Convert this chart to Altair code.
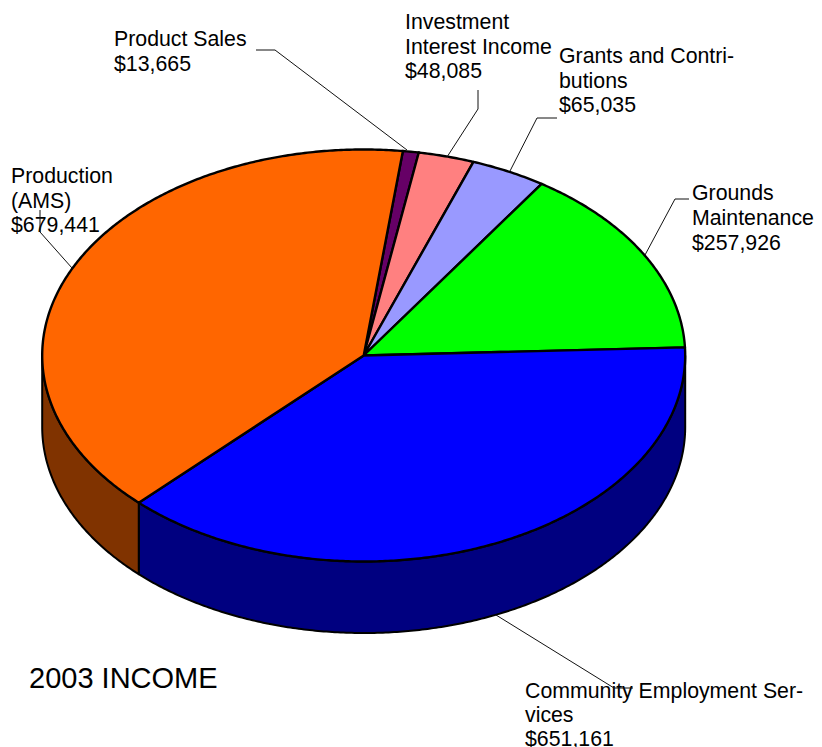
import numpy as np
import pandas as pd
import altair as alt

# Slice data, clockwise from the top of the pie
names = ["Product Sales", "Investment Interest Income", "Grants and Contributions",
         "Grounds Maintenance", "Community Employment Services", "Production (AMS)"]
values = [13665, 48085, 65035, 257926, 651161, 679441]
top_colors = ["#660066", "#FF8080", "#9999FF", "#00FF00", "#0000FF", "#FF6600"]
side_colors = ["#330033", "#804040", "#4C4C80", "#008000", "#000080", "#803300"]

# Label text, one entry per rendered line
label_lines = ["Product Sales", "$13,665",
               "Investment", "Interest Income", "$48,085",
               "Grants and Contri-", "butions", "$65,035",
               "Grounds", "Maintenance", "$257,926",
               "Community Employment Ser-", "vices", "$651,161",
               "Production", "(AMS)", "$679,441"]
label_x = [114, 114, 405, 405, 405, 559, 559, 559, 692, 692, 692, 525, 525, 525, 11, 11, 11]
label_y = [46, 71, 29, 54, 78, 63, 88, 112, 200, 225, 250, 698, 722, 746, 183, 208, 232]

# Leader-line paths in the page's pixel space
leaders = {
    "Product Sales": ([256, 275, 407], [50, 50, 150]),
    "Investment": ([478, 478, 447], [90, 109, 157]),
    "Grants": ([557, 537, 510], [118, 118, 171]),
    "Grounds": ([689, 675, 645], [199, 199, 255]),
    "Production": ([40, 40, 72], [210, 232, 268]),
    "Community": ([633, 614, 496], [688, 688, 615]),
}

title_text = "2003 INCOME"

# Pie geometry
CX, CY, RX, RY, DEPTH = 363.7, 355.5, 321.5, 206.0, 71.5
START_DEG = 7.0

def rim(t_deg, dy=0.0):
    t = np.radians(t_deg)
    return CX + RX * np.sin(t), CY - RY * np.cos(t) + dy

shares = np.array(values) / sum(values) * 360.0
edges = START_DEG + np.concatenate([[0], np.cumsum(shares)])

top_rows, side_rows = [], []
for i, name in enumerate(names):
    a0, a1 = edges[i], edges[i + 1]
    pts = [(CX, CY)]
    for t in np.linspace(a0, a1, max(4, int((a1 - a0) * 2))):
        pts.append(rim(t))
    pts.append((CX, CY))
    top_rows += [{"name": name, "x": p[0], "y": p[1], "o": k} for k, p in enumerate(pts)]
    # visible wall: only the front half of the rim
    s0, s1 = max(a0, 90.0), min(a1, 270.0)
    if s1 > s0:
        ts = np.linspace(s0, s1, max(4, int((s1 - s0) * 2)))
        wall = [rim(t) for t in ts] + [rim(t, DEPTH) for t in ts[::-1]]
        wall.append(wall[0])
        side_rows += [{"name": name, "x": p[0], "y": p[1], "o": k} for k, p in enumerate(wall)]

leader_rows = []
for key, (xs, ys) in leaders.items():
    leader_rows += [{"name": key, "x": x, "y": y, "o": k} for k, (x, y) in enumerate(zip(xs, ys))]

X = alt.X("x:Q", scale=alt.Scale(domain=[8, 814], nice=False, zero=False), axis=None)
Y = alt.Y("y:Q", scale=alt.Scale(domain=[747, 8], nice=False, zero=False), axis=None)

sides = alt.Chart(pd.DataFrame(side_rows)).mark_line(
    filled=True, stroke="black", strokeWidth=2, strokeJoin="round"
).encode(
    x=X, y=Y, order="o:Q",
    color=alt.Color("name:N", scale=alt.Scale(domain=names, range=side_colors), legend=None),
)
tops = alt.Chart(pd.DataFrame(top_rows)).mark_line(
    filled=True, stroke="black", strokeWidth=2.4, strokeJoin="round"
).encode(
    x=X, y=Y, order="o:Q",
    color=alt.Color("name:N", scale=alt.Scale(domain=names, range=top_colors), legend=None),
)
leader_layer = alt.Chart(pd.DataFrame(leader_rows)).mark_line(
    color="#111111", strokeWidth=1
).encode(x=X, y=Y, order="o:Q", detail="name:N")

labels = alt.Chart(pd.DataFrame({"x": label_x, "y": label_y, "t": label_lines})).mark_text(
    font="Liberation Sans", fontSize=21.3, align="left", baseline="alphabetic", color="black"
).encode(x=X, y=Y, text="t:N")

title = alt.Chart(pd.DataFrame({"x": [29], "y": [688], "t": [title_text]})).mark_text(
    font="Liberation Sans", fontSize=29, align="left", baseline="alphabetic", color="black"
).encode(x=X, y=Y, text="t:N")

chart = alt.layer(
    sides, tops, labels, leader_layer, title
).resolve_scale(color="independent").properties(
    width=806, height=739, padding=0,
    autosize=alt.AutoSizeParams(type="none", contains="padding"),
).configure_view(stroke=None)

chart.save("out.html", embed_options={"renderer": "svg", "actions": False})
